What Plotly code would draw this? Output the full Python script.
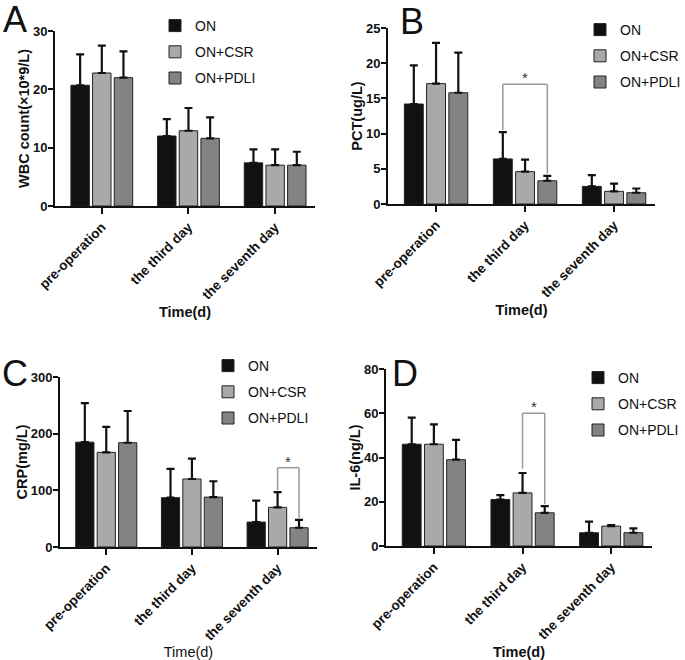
import plotly.graph_objects as go

categories = ["pre-operation", "the third day", "the seventh day"]
groups = ["ON", "ON+CSR", "ON+PDLI"]
colors = ["#111111", "#a9a9a9", "#838383"]

# Panel A: WBC
wbc_mean = {"ON": [20.7, 12.0, 7.4], "ON+CSR": [22.8, 12.9, 7.0], "ON+PDLI": [22.0, 11.6, 7.0]}
wbc_err = {"ON": [5.3, 2.9, 2.3], "ON+CSR": [4.7, 3.9, 2.7], "ON+PDLI": [4.5, 3.6, 2.3]}
# Panel B: PCT
pct_mean = {"ON": [14.2, 6.4, 2.5], "ON+CSR": [17.1, 4.6, 1.8], "ON+PDLI": [15.8, 3.3, 1.6]}
pct_err = {"ON": [5.5, 3.8, 1.6], "ON+CSR": [5.8, 1.7, 1.1], "ON+PDLI": [5.7, 0.7, 0.6]}
# Panel C: CRP
crp_mean = {"ON": [185, 87, 44], "ON+CSR": [167, 120, 70], "ON+PDLI": [184, 88, 34]}
crp_err = {"ON": [69, 51, 38], "ON+CSR": [45, 36, 27], "ON+PDLI": [56, 28, 14]}
# Panel D: IL-6
il6_mean = {"ON": [46, 21, 6], "ON+CSR": [46, 24, 9], "ON+PDLI": [39, 15, 6]}
il6_err = {"ON": [12, 2, 5], "ON+CSR": [9, 9, 0.5], "ON+PDLI": [9, 3, 2]}

panels = [
    dict(mean=wbc_mean, err=wbc_err, letter="A", ytitle="WBC count(×10*9/L)", yrange=[0, 30], dtick=10,
         xdom=[55/685, 315/685], ydom=[(660-206)/660, (660-31)/660], tbold=True,
         sig=None, legpos=(155, 10)),
    dict(mean=pct_mean, err=pct_err, letter="B", ytitle="PCT(ug/L)", yrange=[0, 25], dtick=5,
         xdom=[388/685, 655/685], ydom=[(660-204)/660, (660-28)/660], tbold=True,
         sig=(1, 0, 2, 17.0, 10.5, 4.3), legpos=(580, 14)),
    dict(mean=crp_mean, err=crp_err, letter="C", ytitle="CRP(mg/L)", yrange=[0, 300], dtick=100,
         xdom=[60/685, 317/685], ydom=[(660-547)/660, (660-377)/660], tbold=False,
         sig=(2, 1, 2, 140, 100, 50), legpos=(208, 350)),
    dict(mean=il6_mean, err=il6_err, letter="D", ytitle="IL-6(ng/L)", yrange=[0, 80], dtick=20,
         xdom=[386/685, 652/685], ydom=[(660-546)/660, (660-369)/660], tbold=True,
         sig=(1, 1, 2, 60, 35, 19), legpos=(578, 362)),
]

letter_pos = {"A": (15, 19), "B": (412, 21), "C": (15, 373), "D": (405, 373)}

fig = go.Figure()
FONT = "Liberation Sans, Arial, sans-serif"
layout = dict(
    width=685, height=660, margin=dict(l=0, r=0, t=0, b=0, autoexpand=False),
    paper_bgcolor="white", plot_bgcolor="white", showlegend=True,
    barmode="group", bargap=0.25, bargroupgap=0.15,
    font=dict(family=FONT, color="#111111"),
)
shapes = []
annotations = []
offsets = [-0.25, 0.0, 0.25]

for i, p in enumerate(panels):
    n = "" if i == 0 else str(i + 1)
    xa, ya = "x" + n, "y" + n
    leg = "legend" + n
    for g, c in zip(groups, colors):
        fig.add_trace(go.Bar(
            x=categories, y=p["mean"][g], name=g, xaxis=xa, yaxis=ya,
            marker=dict(color=c, line=dict(color="#222222", width=1)),
            error_y=dict(type="data", array=p["err"][g], arrayminus=[0, 0, 0], symmetric=False,
                         color="#111111", thickness=2.2, width=4),
            legend=leg, legendgroup=leg + g, showlegend=True,
        ))
    layout["xaxis" + n] = dict(
        domain=p["xdom"], anchor=ya, type="category", range=[-0.54, 2.46], automargin=False,
        showline=True, linecolor="#111111", linewidth=2, ticks="outside", ticklen=6,
        tickwidth=2, tickcolor="#111111", tickangle=-45, showgrid=False, zeroline=False,
        tickfont=dict(size=13.5, weight="bold", family=FONT, color="#111111"),
        title=dict(text="Time(d)", standoff=5,
                   font=dict(size=14.5, weight="bold" if p["tbold"] else "normal", family=FONT, color="#111111")),
    )
    layout["yaxis" + n] = dict(
        domain=p["ydom"], anchor=xa, range=p["yrange"], dtick=p["dtick"], automargin=False,
        showline=True, linecolor="#111111", linewidth=2, ticks="outside", ticklen=5,
        tickwidth=2, tickcolor="#111111", showgrid=False, zeroline=False, ticklabelstandoff=-2,
        tickfont=dict(size=13, weight="bold", family=FONT, color="#111111"),
        title=dict(text=p["ytitle"], standoff=0,
                   font=dict(size=14.5, weight="bold", family=FONT, color="#111111")),
    )
    lx, ly = p["legpos"]
    layout[leg] = dict(
        x=lx/685, y=1 - ly/660, xanchor="left", yanchor="top",
        bgcolor="rgba(0,0,0,0)", font=dict(size=14, family=FONT, color="#111111"),
        tracegroupgap=5, itemwidth=30,
    )
    ax, ay = letter_pos[p["letter"]]
    annotations.append(dict(text=p["letter"], x=ax/685, y=1 - ay/660, xref="paper", yref="paper",
                            showarrow=False, font=dict(size=36, family=FONT, color="#111111"),
                            xanchor="center", yanchor="middle"))
    if p["sig"]:
        ci, a, b, ytop, yl, yr = p["sig"]
        x1 = ci + offsets[a]
        x2 = ci + offsets[b]
        line = dict(color="#9a9a9a", width=1.5)
        shapes.append(dict(type="line", xref=xa, yref=ya, x0=x1, x1=x1, y0=yl, y1=ytop, line=line))
        shapes.append(dict(type="line", xref=xa, yref=ya, x0=x1, x1=x2, y0=ytop, y1=ytop, line=line))
        shapes.append(dict(type="line", xref=xa, yref=ya, x0=x2, x1=x2, y0=yr, y1=ytop, line=line))
        annotations.append(dict(text="*", x=(x1 + x2) / 2, y=ytop, xref=xa, yref=ya, showarrow=False,
                                yanchor="bottom", yshift=-4, font=dict(size=15, color="#333333", family=FONT)))

layout["shapes"] = shapes
layout["annotations"] = annotations
fig.update_layout(**layout)
fig.write_html("out.html", config={"displayModeBar": False},
               post_script="document.body.style.margin='0px';document.body.style.overflow='hidden';")
